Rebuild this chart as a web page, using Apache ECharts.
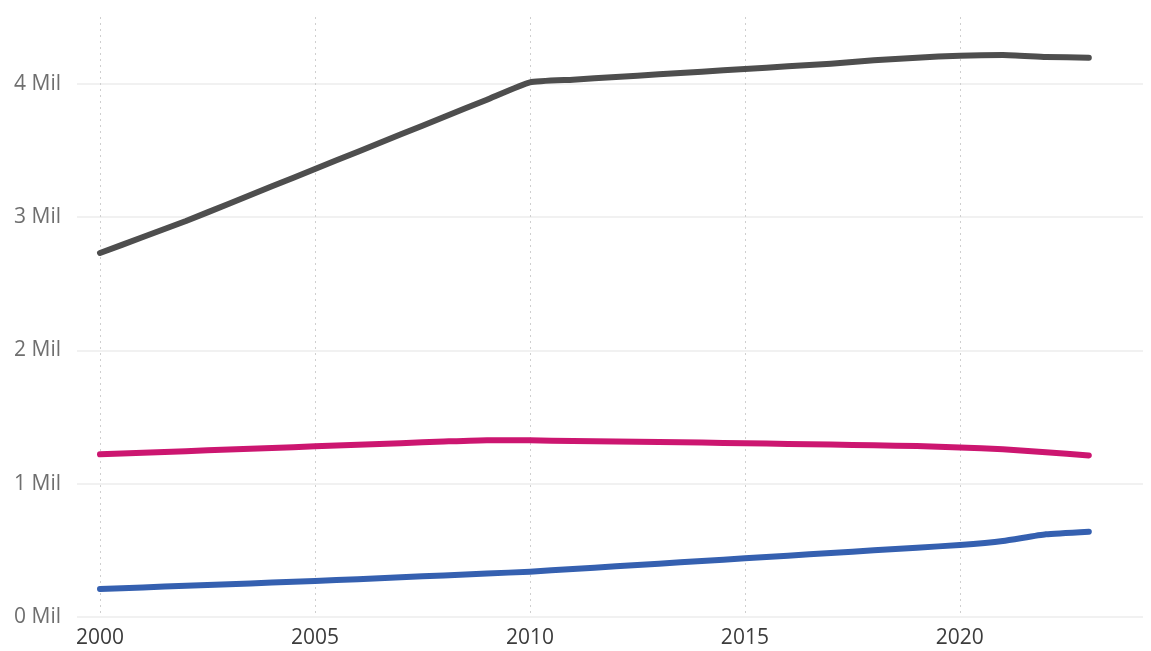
<!DOCTYPE html>
<html>
<head>
<meta charset="utf-8">
<script src="https://cdn.jsdelivr.net/npm/echarts@6/dist/echarts.min.js"></script>
<style>
  html, body { margin: 0; padding: 0; background: #fff; }
  #chart { width: 1151px; height: 651px; }
</style>
</head>
<body>
<div id="chart"></div>
<script>
// Years on the horizontal axis
const years = [2000, 2001, 2002, 2003, 2004, 2005, 2006, 2007, 2008, 2009, 2010, 2011,
               2012, 2013, 2014, 2015, 2016, 2017, 2018, 2019, 2020, 2021, 2022, 2023];

// Series values (absolute counts)
const seriesGray = [2730000, 2850000, 2970000, 3100000, 3230000, 3360000, 3490000, 3620000,
                    3750000, 3880000, 4010000, 4030000, 4050000, 4070000, 4090000, 4110000,
                    4130000, 4150000, 4175000, 4195000, 4210000, 4215000, 4200000, 4195000];
const seriesPink = [1220000, 1232000, 1244000, 1256000, 1268000, 1280000, 1292000, 1304000,
                    1316000, 1326000, 1325000, 1320000, 1316000, 1312000, 1308000, 1303000,
                    1298000, 1293000, 1288000, 1282000, 1272000, 1258000, 1236000, 1212000];
const seriesBlue = [210000, 222000, 234000, 246000, 258000, 270000, 284000, 298000,
                    312000, 326000, 340000, 360000, 380000, 400000, 420000, 440000,
                    460000, 480000, 500000, 520000, 540000, 570000, 620000, 640000];

// Tick positions
const xTicks = [2000, 2005, 2010, 2015, 2020];
const yTicks = [0, 1000000, 2000000, 3000000, 4000000];

const pairs = arr => arr.map((v, i) => [years[i], v]);

const chart = echarts.init(document.getElementById('chart'), null, { renderer: 'canvas' });

const lineSeries = (data, color) => ({
  type: 'line', data: pairs(data), smooth: 0.15, showSymbol: false,
  lineStyle: { color: color, width: 6, cap: 'round', join: 'round' }
});

chart.setOption({
  animation: false,
  backgroundColor: '#ffffff',
  grid: { left: 77, right: 8, top: 17, bottom: 34, containLabel: false },
  xAxis: {
    type: 'value',
    min: 1999.465,
    max: 2024.26,
    axisLine: { show: false },
    axisTick: { show: false, customValues: xTicks },
    axisLabel: {
      customValues: xTicks,
      color: '#3c3c3c',
      fontSize: 21,
      fontFamily: 'Open Sans',
      margin: 11,
      formatter: v => String(v)
    },
    splitLine: {
      show: true,
      lineStyle: { color: '#cfcfcf', type: [2, 4], width: 1 }
    }
  },
  yAxis: {
    type: 'value',
    min: 0,
    max: 4500000,
    axisLine: { show: false },
    axisTick: { show: false, customValues: yTicks },
    axisLabel: {
      customValues: yTicks,
      color: '#6f6f6f',
      fontSize: 21,
      fontFamily: 'Open Sans',
      margin: 16,
      formatter: v => (v / 1000000) + ' Mil'
    },
    splitLine: {
      show: true,
      lineStyle: { color: '#ececec', width: 1.5 }
    }
  },
  series: [
    lineSeries(seriesGray, '#4e4e4e'),
    lineSeries(seriesPink, '#cc1670'),
    lineSeries(seriesBlue, '#3560b0')
  ]
});
</script>
</body>
</html>
